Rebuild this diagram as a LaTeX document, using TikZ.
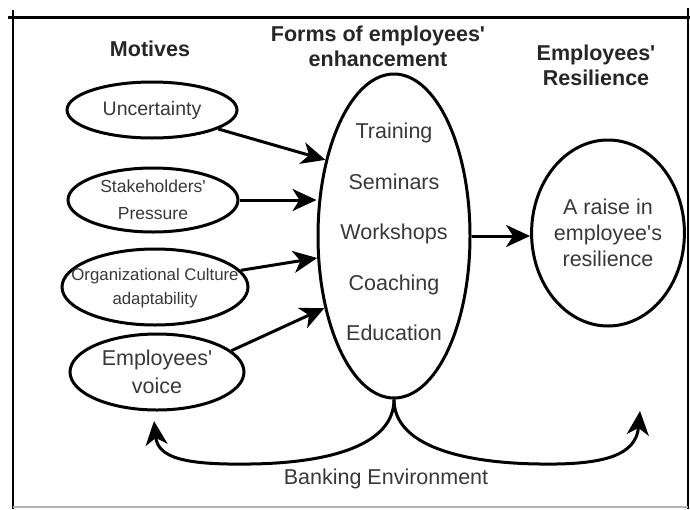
\documentclass[tikz,border=0pt]{standalone}
\usepackage{fontspec}
\setmainfont{Liberation Sans}
\usetikzlibrary{shapes.geometric,arrows.meta}
\definecolor{txt}{HTML}{383838}
\definecolor{headc}{HTML}{262626}
\begin{document}
\begin{tikzpicture}[x=1pt,y=-1pt,
  oval/.style={ellipse,draw=black,line width=3pt,inner sep=0pt,text=txt,align=center},
  conn/.style={line width=3pt,-{Stealth[length=24pt,width=22pt,inset=7pt]}},
  head/.style={font=\fontsize{21.5}{25}\selectfont\bfseries,text=headc,align=center}]
\useasboundingbox (0,0) rectangle (690,509);
% frame
\draw[line width=3pt] (8,17) -- (690,17);
\draw[line width=2.5pt] (13,10) -- (13,509);
\draw[line width=2.5pt] (688,8) -- (688,509);
\draw[gray!60,line width=1.5pt] (13,507) -- (688,507);
% headings
\node[head] (mot) at (150,49) {Motives};
\node[head] (formsh) at (378,46) {Forms of employees\textquotesingle\\enhancement};
\node[head] (resh) at (596,65) {Employees\textquotesingle\\Resilience};
% motive ovals
\node[oval,minimum width=170pt,minimum height=56pt,font=\fontsize{19.5}{26}\selectfont] (unc) at (152,110) {Uncertainty};
\node[oval,minimum width=170pt,minimum height=64pt,font=\fontsize{17.5}{27}\selectfont] (stake) at (153,200) {Stakeholders\textquotesingle\\Pressure};
\node[oval,minimum width=186pt,minimum height=76pt] (org) at (155,287) {};
\node[text=txt,align=center,font=\fontsize{16.8}{24}\selectfont] (orgt) at (155,288) {Organizational Culture\\adaptability};
\node[oval,minimum width=174pt,minimum height=76pt,font=\fontsize{21.5}{28}\selectfont] (voice) at (157,372) {Employees\textquotesingle\\voice};
% central oval
\node[oval,minimum width=152pt,minimum height=324pt] (big) at (394,236) {};
\node[text=txt,align=center,font=\fontsize{21.5}{50.5}\selectfont] (forms) at (394,232) {Training\\Seminars\\Workshops\\Coaching\\Education};
% result oval
\node[oval,minimum width=140pt,minimum height=186pt,font=\fontsize{21.5}{26}\selectfont] (res) at (608,233) {A raise in\\employee\textquotesingle s\\resilience};
% connectors
\draw[conn] (unc.-16) -- (big.132);
\draw[conn] (stake.east) -- (stake.east -| big.west);
\draw[conn] (org.11) -- (big.196);
\draw[conn] (voice.16) -- (big.226);
\draw[conn] (big.east) -- (big.east -| res.west);
% banking environment
\coordinate (lt) at (154,421);
\coordinate (rt) at (640,411);
\draw[conn] (big.south) .. controls (394,445) and (330,463) .. (250,464) .. controls (185,465) and (158,458) .. (lt);
\draw[conn] (big.south) .. controls (394,445) and (460,463) .. (540,464) .. controls (605,465) and (636,455) .. (rt);
\node[text=txt,font=\fontsize{21.5}{26}\selectfont] (bank) at (386,479) {Banking Environment};
\end{tikzpicture}
\end{document}
